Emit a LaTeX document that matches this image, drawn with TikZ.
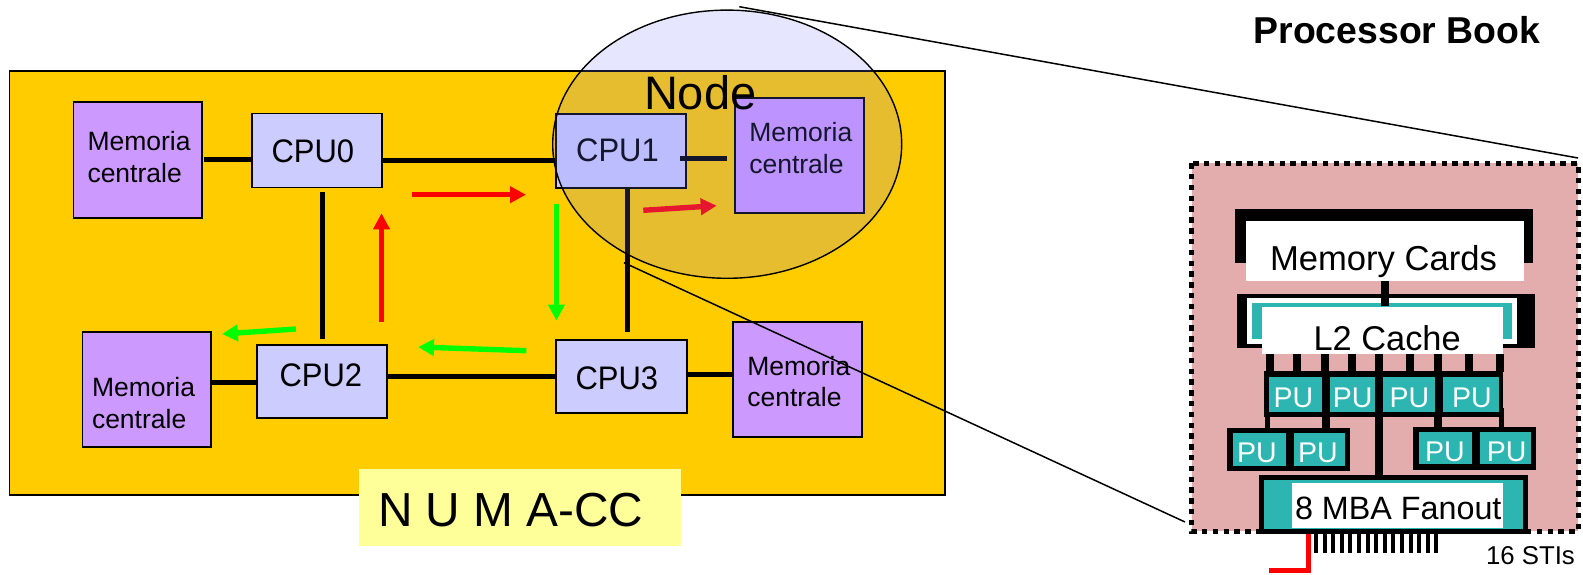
\documentclass[tikz,border=0pt]{standalone}
\usepackage{fontspec}
\setmainfont{Liberation Sans}
\newfontfamily\cpuf[FakeStretch=0.95]{Liberation Sans}
\usetikzlibrary{arrows.meta}
\definecolor{numaY}{HTML}{FFCC00}
\definecolor{memC}{HTML}{CC99FF}
\definecolor{cpuC}{HTML}{CCCCFF}
\definecolor{noteY}{HTML}{FFFF99}
\definecolor{tealC}{HTML}{2DB5B1}
\definecolor{bookC}{HTML}{E4ADAD}
\definecolor{nodeC}{RGB}{116,124,255}
\definecolor{greenA}{HTML}{00FF00}
\newcommand{\rbox}[6]{\node[#6,minimum width={(#4)-(#2)},minimum height={(#5)-(#3)},anchor=north west] (#1) at (#2,#3) {};}
\newcommand{\fs}[1]{\fontsize{#1}{#1}\selectfont}
\tikzset{
  x=1pt,y=-1pt,
  every node/.style={inner sep=0pt,outer sep=0pt},
  yellowbox/.style={draw=black,line width=1.8pt,fill=numaY},
  membox/.style={draw=black,line width=1.9pt,fill=memC},
  cpubox/.style={draw=black,line width=1.9pt,fill=cpuC},
  notebox/.style={fill=noteY},
  blackbox/.style={fill=black},
  whitebox/.style={fill=white},
  tealbox/.style={fill=tealC},
  txtbase/.style={anchor=base west,text=black},
  cputxt/.style={txtbase,font=\cpuf\fs{32.6}},
  memtxt/.style={txtbase,font=\fs{26.5}},
  putxt/.style={anchor=base,text=white,font=\fs{28.5}},
  link/.style={draw=black,line width=5pt},
  tooth/.style={draw=black,line width=8pt},
  stub/.style={draw=black,line width=4pt},
  redline/.style={draw=red,line width=5pt},
  arr/.style={line width=5.4pt,-{Triangle[width=16pt,length=16pt]}},
  zoomline/.style={draw=black,line width=1.5pt},
}
\begin{document}
\begin{tikzpicture}
\useasboundingbox (0,0) rectangle (1583,575);
% --- NUMA board
\rbox{board}{9.5}{71}{945}{495}{yellowbox}
\rbox{m0}{73.5}{102}{202}{218}{membox}
\rbox{c0}{252}{113.5}{382}{187.5}{cpubox}
\rbox{c1}{556.3}{113.7}{686.3}{188.3}{cpubox}
\rbox{m1}{735.3}{97.7}{863.7}{213.3}{membox}
\rbox{m2}{82.5}{331.7}{210.7}{447}{membox}
\rbox{c2}{256.8}{344.7}{387}{418}{cpubox}
\rbox{c3}{556.3}{339.7}{686.8}{413.3}{cpubox}
\rbox{m3}{733.4}{321.7}{862}{437}{membox}
% links
\draw[link] (204,160) -- (c0.west |- 0,160);
\draw[link] (c0.east |- 0,160.5) -- (c1.west |- 0,160.5);
\draw[link] (680,158.7) -- (726.7,158.7);
\draw[link] (c0.south -| 322,0) ++(0,4.5) -- (322,339);
\draw[link] (c1.south -| 627.4,0) -- (627.4,331.7);
\draw[link] (m2.east |- 0,382.7) -- (c2.west |- 0,382.7);
\draw[link] (c2.east |- 0,376.7) -- (c3.west |- 0,376.7);
\draw[link] (c3.east |- 0,374.7) -- (m3.west |- 0,374.7);
% arrows
\coordinate (ra1) at (412,194.7); \coordinate (ra2) at (526,194.7);
\coordinate (ra3) at (381.5,321.7); \coordinate (ra4) at (381.5,213.3);
\coordinate (ra5) at (643.3,210.3); \coordinate (ra6) at (716.7,205.7);
\coordinate (ga1) at (556.4,204); \coordinate (ga2) at (556.4,320.7);
\coordinate (ga3) at (296,329); \coordinate (ga4) at (222,334);
\coordinate (ga5) at (526.4,350.7); \coordinate (ga6) at (418,347);
\draw[arr,red] (ra1) -- (ra2);
\draw[arr,red] (ra3) -- (ra4);
\draw[arr,red] (ra5) -- (ra6);
\draw[arr,greenA] (ga1) -- (ga2);
\draw[arr,greenA] (ga3) -- (ga4);
\draw[arr,greenA] (ga5) -- (ga6);
% labels
\node[cputxt] (tc0) at (271.5,163) {CPU0};
\node[cputxt] (tc1) at (576.2,161.7) {CPU1};
\node[cputxt] (tc2) at (279.5,386) {CPU2};
\node[cputxt] (tc3) at (575.5,389.3) {CPU3};
\node[memtxt] (tm0a) at (87.5,150.7) {Memoria};
\node[memtxt] (tm0b) at (87.5,182.7) {centrale};
\node[memtxt] (tm1a) at (749.3,141.7) {Memoria};
\node[memtxt] (tm1b) at (749.3,173.3) {centrale};
\node[memtxt] (tm2a) at (92,396.7) {Memoria};
\node[memtxt] (tm2b) at (92,428.3) {centrale};
\node[memtxt] (tm3a) at (747.3,375) {Memoria};
\node[memtxt] (tm3b) at (747.3,406.7) {centrale};
% translucent node ellipse
\draw[draw=black,line width=1.4pt,fill=nodeC,fill opacity=.18] (727.2,144.2) ellipse [x radius=174.5,y radius=134.1];
\coordinate (ellTop) at (739.3,6.7);
\coordinate (ellBot) at (624,262.7);
\node[txtbase,font=\fs{47}] (tnode) at (644,110) {Node};
% NUMA label
\rbox{numa}{358.6}{469}{680.5}{546}{notebox}
\node[txtbase,font=\fs{47.8}] (tnuma) at (378,526.7) {N U M A-CC};
% --- Processor book
\node[txtbase,font=\bfseries\fs{37.4}] (tbook) at (1253.5,43.3) {Processor Book};
\rbox{book}{1191.7}{163.3}{1578}{531}{fill=bookC}
\draw[black,line width=5pt,dash pattern=on 5.4pt off 5.4pt] (book.north west) rectangle (book.south east);
% memory cards
\rbox{mcb}{1235}{209.3}{1532.7}{262.7}{blackbox}
\rbox{mcw}{1246.3}{221.3}{1524.3}{281.3}{whitebox}
\node[txtbase,font=\fs{34.6}] (tmc) at (1270,270) {Memory Cards};
% L2
\rbox{l2b}{1237.3}{294.3}{1535.3}{347.7}{blackbox}
\rbox{l2w}{1247.3}{298.3}{1517}{344}{whitebox}
\rbox{l2t}{1252.3}{303.3}{1512}{339}{tealbox}
\rbox{l2}{1262.3}{306.7}{1502.7}{354}{whitebox}
\draw[tooth] (mcw.south -| 1385.3,0) -- (1385.3,306);
\node[txtbase,font=\fs{34.4}] (tl2) at (1313.5,350) {L2 Cache};
% PU rows
\rbox{rowa}{1264.3}{371}{1503.3}{416.7}{blackbox}
\rbox{pa1}{1269.3}{376.7}{1322.3}{411.7}{tealbox}
\rbox{pa2}{1330.3}{376.7}{1376}{411.7}{tealbox}
\rbox{pa3}{1383.3}{376.7}{1434.7}{411.7}{tealbox}
\rbox{pa4}{1442.7}{376.7}{1499}{411.7}{tealbox}
\rbox{rowb}{1227.3}{427.7}{1350.3}{471}{blackbox}
\rbox{pb1}{1232.7}{433.3}{1286.3}{465.7}{tealbox}
\rbox{pb2}{1294}{433.3}{1345.3}{465.7}{tealbox}
\rbox{rowc}{1413.3}{426.7}{1535.7}{469.7}{blackbox}
\rbox{pc1}{1418.7}{432}{1472}{464.3}{tealbox}
\rbox{pc2}{1480}{432}{1531}{464.3}{tealbox}
\node[putxt] (pua1) at (1293.3,407.3) {PU};
\node[putxt] (pua2) at (1352.7,407.3) {PU};
\node[putxt] (pua3) at (1409.3,407.3) {PU};
\node[putxt] (pua4) at (1472,407.3) {PU};
\node[putxt] (pub1) at (1257,462.3) {PU};
\node[putxt] (pub2) at (1318,462.3) {PU};
\node[putxt] (puc1) at (1445,461) {PU};
\node[putxt] (puc2) at (1506.7,461) {PU};
% MBA
\rbox{mbab}{1259}{475}{1528.3}{534.3}{blackbox}
\rbox{mbat}{1264.3}{480}{1523.3}{529.3}{tealbox}
\rbox{mbaw}{1292}{482.7}{1502.7}{528.3}{whitebox}
\node[txtbase,font=\fs{32.3}] (tmba) at (1295,519) {8 MBA Fanout};
% risers
\foreach \x in {1269.7,1297,1325.3,1352,1409.7,1438,1469,1499.7}
  \draw[tooth] (l2.south -| \x,0) -- (\x,371.5);
\draw[tooth] (l2.south -| 1379.3,0) -- (mbab.north -| 1379.3,0);
\draw[draw=black,line width=5pt] (rowa.south -| 1267.3,0) -- (rowb.north -| 1267.3,0);
\draw[tooth] (rowa.south -| 1326,0) -- (rowb.north -| 1326,0);
\draw[tooth] (rowa.south -| 1438.3,0) -- (rowc.north -| 1438.3,0);
\draw[draw=black,line width=5pt] (1501.7,408) -- (rowc.north -| 1501.7,0);
% STI teeth
\foreach \i in {0,...,14}
  \draw[stub] (mbab.south -| {1316+8.6*\i},0) -- ({1316+8.6*\i},553);
\coordinate (rc) at (1308.3,570.7);
\coordinate (re) at (1269.3,570.7);
\draw[redline,line join=miter] (mbab.south -| 1308.3,0) -- (rc) -- (re);
\node[txtbase,font=\fs{25.8}] (tsti) at (1486,564.3) {16 STIs};
% zoom lines
\coordinate (bookEnd) at (1578,158);
\draw[zoomline] (ellTop) -- (bookEnd);
\draw[zoomline] (ellBot) -- (1185,522);
\end{tikzpicture}
\end{document}
